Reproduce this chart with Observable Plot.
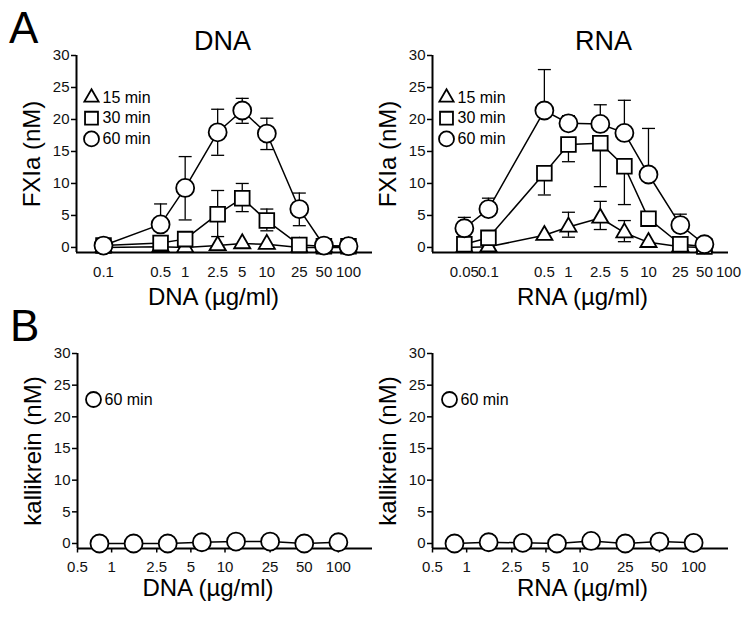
<!DOCTYPE html>
<html>
<head>
<meta charset="utf-8">
<script src="https://cdn.jsdelivr.net/npm/d3@7"></script>
<script src="https://cdn.jsdelivr.net/npm/@observablehq/plot@0.6"></script>
<style>
  body { margin: 0; background: white; }
  #c { position: relative; width: 750px; height: 617px; background: white; font-family: "Liberation Sans", Arial, sans-serif; }
  .p { position: absolute; }
  .letter { position: absolute; font-size: 44px; line-height: 1; color: black; }
</style>
</head>
<body>
<div id="c">
  <div class="letter" style="left:9px;top:6px;">A</div>
  <div class="letter" style="left:10px;top:304px;">B</div>
</div>
<script>
// ---------- data ----------
const yTicks = [0, 5, 10, 15, 20, 25, 30];

const dnaConc = [0.1, 0.5, 1, 2.5, 5, 10, 25, 50, 100];
const dnaTicks = [0.1, 0.5, 1, 2.5, 5, 10, 25, 50, 100];
const dna15 = [0.0, 0.1, 0.0, 0.3, 0.6, 0.5, 0.0, 0.0, 0.0];
const dna30 = [0.3, 0.7, 1.3, 5.2, 7.7, 4.2, 0.4, 0.2, 0.2];
const dna30Hi = [null, null, null, 8.9, 10.0, 6.0, null, null, null];
const dna30Lo = [null, null, null, 1.7, 5.6, 2.6, null, null, null];
const dna60 = [0.3, 3.6, 9.3, 18.0, 21.4, 17.8, 6.0, 0.3, 0.2];
const dna60Hi = [null, 6.8, 14.2, 21.6, 23.3, 20.2, 8.5, null, null];
const dna60Lo = [null, null, 4.3, 14.4, 19.4, 15.3, 3.4, null, null];

const rnaConc = [0.05, 0.1, 0.5, 1, 2.5, 5, 10, 25, 50];
const rnaTicks = [0.05, 0.1, 0.5, 1, 2.5, 5, 10, 25, 50, 100];
const rna15 = [0.0, 0.1, 1.9, 3.2, 4.6, 2.3, 0.8, 0.1, 0.0];
const rna15Hi = [null, null, null, 5.5, 7.2, 4.2, null, null, null];
const rna15Lo = [null, null, null, 1.6, 2.8, 0.9, null, null, null];
const rna30 = [0.5, 1.5, 11.6, 16.1, 16.3, 12.7, 4.5, 0.5, 0.15];
const rna30Hi = [null, null, null, null, null, null, null, null, null];
const rna30Lo = [null, null, 8.2, 13.4, 9.5, 6.7, null, null, null];
const rna60 = [3.0, 6.0, 21.4, 19.4, 19.3, 17.9, 11.4, 3.5, 0.5];
const rna60Hi = [4.7, 7.7, 27.8, 20.6, 22.3, 23.0, 18.6, 5.2, null];
const rna60Lo = [null, null, null, null, null, null, null, null, null];

const kalConc = [0.78125, 1.5625, 3.125, 6.25, 12.5, 25, 50, 100];
const kalTicks = [0.5, 1, 2.5, 5, 10, 25, 50, 100];
const kalDna = [0.0, 0.0, 0.0, 0.2, 0.3, 0.3, 0.0, 0.2];
const kalRna = [0.0, 0.2, 0.1, 0.0, 0.4, 0.0, 0.3, 0.1];

// ---------- helpers ----------
const FONT = "Liberation Sans, Arial, sans-serif";
const capSymbol = {
  draw(ctx, size) {
    const w = Math.sqrt(size / Math.PI);
    ctx.moveTo(-w, 0);
    ctx.lineTo(w, 0);
  }
};
const vTickSymbol = {
  draw(ctx, size) {
    const h = Math.sqrt(size / Math.PI);
    ctx.moveTo(0, 0);
    ctx.lineTo(0, h);
  }
};
const symR = { triangle: 6, square: 8.3, circle: 9 };
const legR = { triangle: 5.3, square: 7.3, circle: 7.5 };

function rowsOf(conc, vals) {
  return conc.map((c, i) => ({ c, v: vals[i] }));
}
function errOf(conc, vals, ext) {
  const out = [];
  conc.forEach((c, i) => { if (ext[i] != null) out.push({ c, v: vals[i], e: ext[i] }); });
  return out;
}

function panel(cfg) {
  const yDomain = [-0.79, 30];
  const marks = [];
  // axis lines
  marks.push(Plot.ruleY([yDomain[0]], { stroke: "black", strokeWidth: 2 }));
  marks.push(Plot.ruleX([cfg.xDomain[0]], { y1: yDomain[0], y2: 30, stroke: "black", strokeWidth: 2 }));
  // x ticks & labels
  if (cfg.xTickSize > 0) {
    marks.push(Plot.dot(cfg.ticks, { x: d => d, frameAnchor: "bottom", symbol: vTickSymbol, r: cfg.xTickSize, stroke: "black", strokeWidth: 1.5, fill: "none" }));
  }
  marks.push(Plot.text(cfg.ticks, { x: d => d, text: d => String(d), frameAnchor: "bottom", dy: cfg.xTickDy, textAnchor: "middle", lineAnchor: "middle", fontSize: 15, fill: "#111" }));
  // error bars
  cfg.series.forEach(s => {
    const err = [...errOf(cfg.conc, s.vals, s.hi || []), ...errOf(cfg.conc, s.vals, s.lo || [])];
    marks.push(Plot.ruleX(err, { x: "c", y1: "v", y2: "e", stroke: "black", strokeWidth: 1.3 }));
    marks.push(Plot.dot(err, { x: "c", y: "e", symbol: capSymbol, r: 6.5, stroke: "black", strokeWidth: 1.3, fill: "none" }));
  });
  // lines
  cfg.series.forEach(s => {
    marks.push(Plot.line(rowsOf(cfg.conc, s.vals), { x: "c", y: "v", stroke: "black", strokeWidth: 1.5 }));
  });
  // markers
  cfg.series.forEach(s => {
    marks.push(Plot.dot(rowsOf(cfg.conc, s.vals), { x: "c", y: "v", symbol: s.symbol, r: symR[s.symbol], fill: "white", stroke: "black", strokeWidth: 1.8 }));
  });
  // legend
  cfg.series.forEach((s, i) => {
    const dy = cfg.legendDy + i * cfg.legendStep;
    marks.push(Plot.dot([0], { frameAnchor: "top-left", dx: cfg.legendDx, dy, symbol: s.symbol, r: legR[s.symbol], fill: "white", stroke: "black", strokeWidth: 1.8 }));
    marks.push(Plot.text([s.name], { frameAnchor: "top-left", dx: cfg.legendDx + 11, dy, textAnchor: "start", lineAnchor: "middle", fontSize: 16, fill: "black" }));
  });
  // title
  if (cfg.title) {
    marks.push(Plot.text([cfg.title], { frameAnchor: "top-left", dx: cfg.titleDx, dy: -14, textAnchor: "middle", lineAnchor: "middle", fontSize: 27, fill: "black" }));
  }
  // axis labels
  marks.push(Plot.text([cfg.ylabel], { frameAnchor: "left", dx: -44, rotate: -90, textAnchor: "middle", lineAnchor: "middle", fontSize: 24, fill: "black" }));
  marks.push(Plot.text([cfg.xlabel], { frameAnchor: "bottom", dx: cfg.xlabelDx, dy: cfg.xlabelDy, textAnchor: "middle", lineAnchor: "middle", fontSize: 24, fill: "black" }));
  // y axis
  marks.push(Plot.axisY({ ticks: yTicks, tickSize: 5, tickPadding: 2, fontSize: 15, strokeWidth: 1.5, label: null, fill: "#111" }));

  const svg = Plot.plot({
    width: 375,
    height: cfg.height,
    marginLeft: cfg.ml,
    marginRight: cfg.mr,
    marginTop: cfg.mt,
    marginBottom: cfg.mb,
    x: { type: "log", domain: cfg.xDomain, axis: null },
    y: { domain: yDomain },
    style: { fontFamily: FONT, color: "black", background: "transparent", overflow: "visible" },
    marks
  });
  svg.classList.add("p");
  svg.style.left = cfg.left + "px";
  svg.style.top = cfg.top + "px";
  document.getElementById("c").appendChild(svg);
}

panel({
  left: 0, top: 0, height: 310, ml: 76, mr: 3, mt: 55, mb: 58,
  xDomain: [0.0467, 196.8], conc: dnaConc, ticks: dnaTicks,
  series: [
    { name: "15 min", symbol: "triangle", vals: dna15 },
    { name: "30 min", symbol: "square", vals: dna30, hi: dna30Hi, lo: dna30Lo },
    { name: "60 min", symbol: "circle", vals: dna60, hi: dna60Hi, lo: dna60Lo }
  ],
  legendDx: 15, legendDy: 42, legendStep: 20.7,
  title: "DNA", titleDx: 146, ylabel: "FXIa (nM)", xlabel: "DNA (µg/ml)",
  xlabelDx: -11, xlabelDy: 45, xTickSize: 0, xTickDy: 20
});

panel({
  left: 375, top: 0, height: 310, ml: 57, mr: 22, mt: 55, mb: 58,
  xDomain: [0.02, 100], conc: rnaConc, ticks: rnaTicks,
  series: [
    { name: "15 min", symbol: "triangle", vals: rna15, hi: rna15Hi, lo: rna15Lo },
    { name: "30 min", symbol: "square", vals: rna30, hi: rna30Hi, lo: rna30Lo },
    { name: "60 min", symbol: "circle", vals: rna60, hi: rna60Hi, lo: rna60Lo }
  ],
  legendDx: 14, legendDy: 42, legendStep: 20.7,
  title: "RNA", titleDx: 171, ylabel: "FXIa (nM)", xlabel: "RNA (µg/ml)",
  xlabelDx: 2, xlabelDy: 45, xTickSize: 0, xTickDy: 20
});

panel({
  left: 0, top: 300, height: 317, ml: 77, mr: 3, mt: 53, mb: 69,
  xDomain: [0.5, 200], conc: kalConc, ticks: kalTicks,
  series: [
    { name: "60 min", symbol: "circle", vals: kalDna }
  ],
  legendDx: 16, legendDy: 46, legendStep: 0,
  title: null, ylabel: "kallikrein (nM)", xlabel: "DNA (µg/ml)",
  xlabelDx: -17, xlabelDy: 40, xTickSize: 4, xTickDy: 19
});

panel({
  left: 375, top: 300, height: 317, ml: 57, mr: 22, mt: 53, mb: 69,
  xDomain: [0.5, 203], conc: kalConc, ticks: kalTicks,
  series: [
    { name: "60 min", symbol: "circle", vals: kalRna }
  ],
  legendDx: 17, legendDy: 46, legendStep: 0,
  title: null, ylabel: "kallikrein (nM)", xlabel: "RNA (µg/ml)",
  xlabelDx: 2, xlabelDy: 40, xTickSize: 4, xTickDy: 19
});
</script>
</body>
</html>
